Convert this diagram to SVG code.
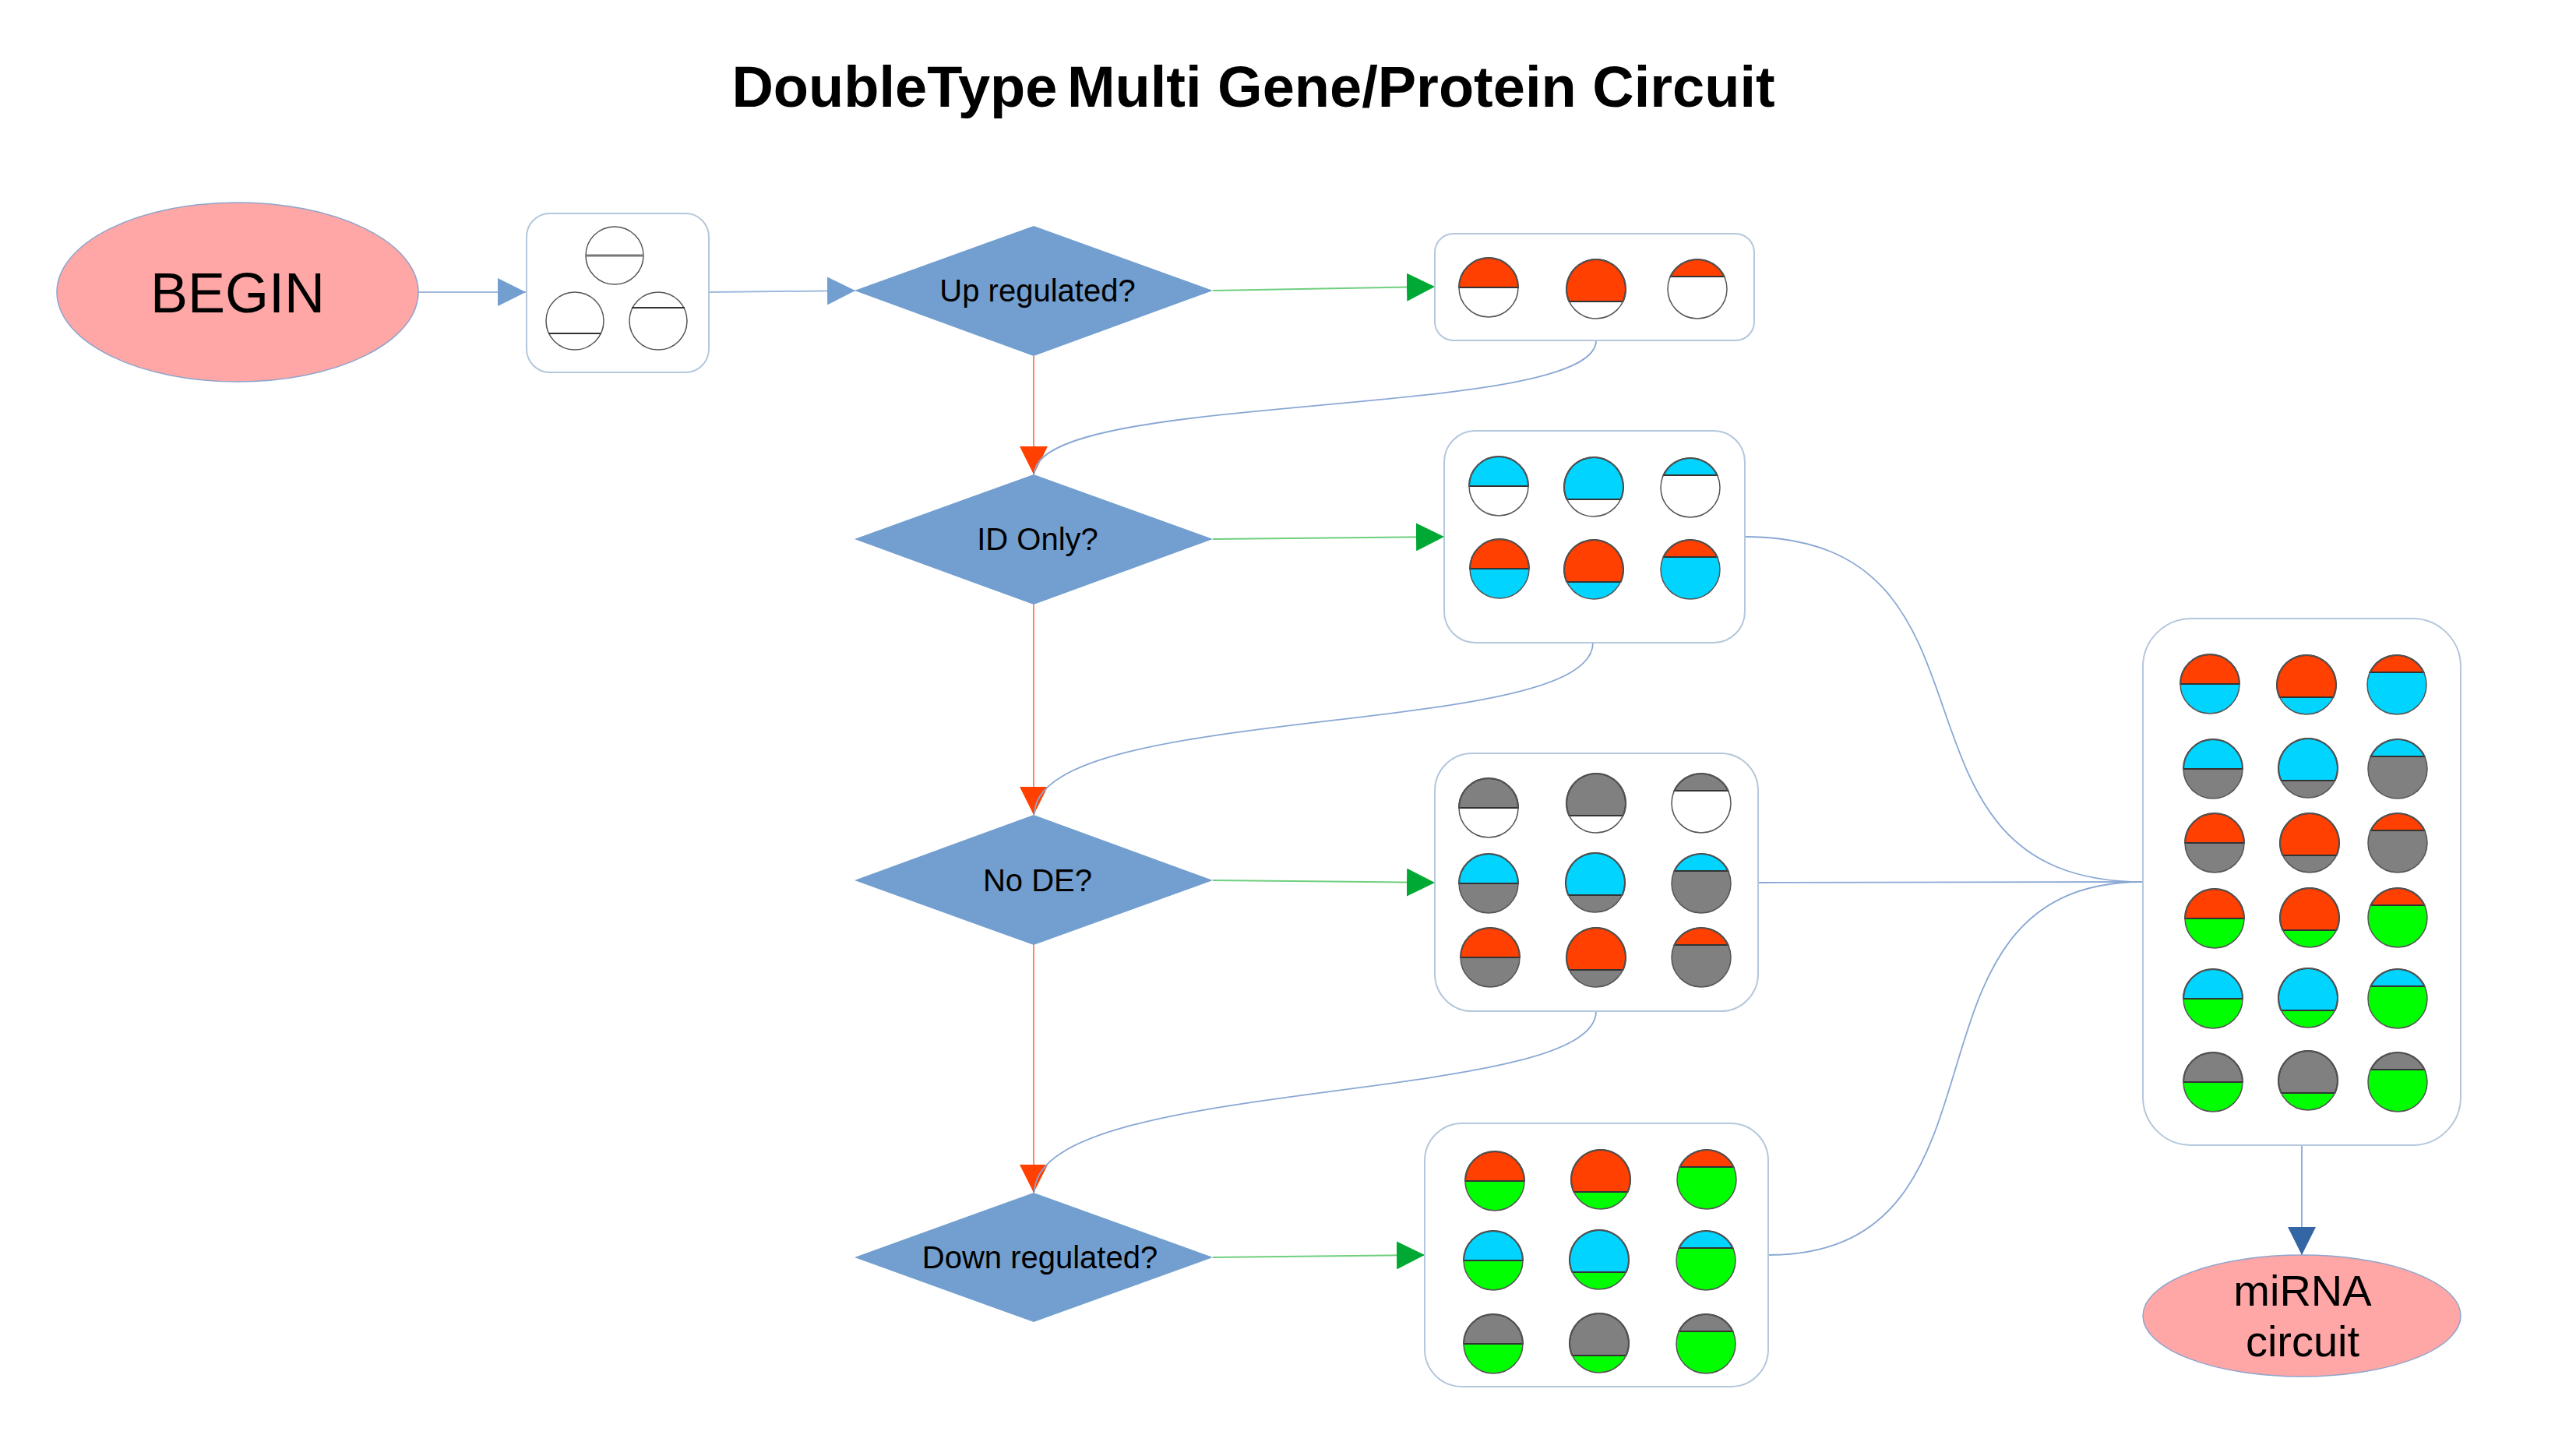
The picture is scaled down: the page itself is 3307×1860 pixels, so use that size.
<svg xmlns="http://www.w3.org/2000/svg" xmlns:xlink="http://www.w3.org/1999/xlink" width="3307" height="1860" viewBox="0 0 3307 1860">
<style>
text{font-family:"Liberation Sans",Arial,sans-serif;fill:#000}
.title{font-size:74px;font-weight:bold;text-anchor:middle}
.dtext{font-size:40px;text-anchor:middle}
.box{fill:#fff;stroke:#b4c7dc;stroke-width:2}
.dia{fill:#729fcf;stroke:none}
.term{fill:#ffa6a6;stroke:#8ea5cc;stroke-width:1.5}
.o{fill:none;stroke:#555;stroke-width:1.5}
.r{fill:#ff4000}.c{fill:#00d4ff}.w{fill:#fff}.g{fill:#808080}.n{fill:#00ff00}
.lb{fill:none;stroke:#9fb9dc;stroke-width:2}
.lg{fill:none;stroke:#6fcf7f;stroke-width:2}
.lr{fill:none;stroke:#ff6a3d;stroke-width:1.6}
.lc{fill:none;stroke:#8aa8d4;stroke-width:1.8}
.div{stroke:#333;stroke-width:2}
</style>
<defs>
<marker id="mb" markerUnits="userSpaceOnUse" viewBox="0 0 36 36" markerWidth="36" markerHeight="36" refX="36" refY="18" orient="auto"><path d="M0,0 L36,18 L0,36 Z" fill="#729fcf"/></marker>
<marker id="mg" markerUnits="userSpaceOnUse" viewBox="0 0 36 36" markerWidth="36" markerHeight="36" refX="36" refY="18" orient="auto"><path d="M0,0 L36,18 L0,36 Z" fill="#00a933"/></marker>
<marker id="mr" markerUnits="userSpaceOnUse" viewBox="0 0 36 36" markerWidth="36" markerHeight="36" refX="36" refY="18" orient="auto"><path d="M0,0 L36,18 L0,36 Z" fill="#ff4000"/></marker>
<marker id="md" markerUnits="userSpaceOnUse" viewBox="0 0 36 36" markerWidth="36" markerHeight="36" refX="36" refY="18" orient="auto"><path d="M0,0 L36,18 L0,36 Z" fill="#3465a4"/></marker>
<path id="sM" d="M-38,0 A38,38 0 0 1 38,0 Z" stroke="#333" stroke-width="2"/>
<path id="sL" d="M-34.5,16 A38,38 0 1 1 34.5,16 Z" stroke="#333" stroke-width="2"/>
<path id="sS" d="M-34.5,-16 A38,38 0 0 1 34.5,-16 Z" stroke="#333" stroke-width="2"/>
</defs>
<rect width="3307" height="1860" fill="#fff"/>

<g id="title"><text class="title" x="1609" y="137">DoubleType<tspan dx="-8"> Multi Gene/Protein Circuit</tspan></text></g>

<g id="connectors">
<path class="lb" d="M537,375 L675,375" marker-end="url(#mb)"/>
<path class="lb" d="M911,375 L1098,373" marker-end="url(#mb)"/>
<path class="lg" d="M1557,373 L1842,368" marker-end="url(#mg)"/>
<path class="lg" d="M1557,692 L1854,689" marker-end="url(#mg)"/>
<path class="lg" d="M1557,1130 L1842,1133" marker-end="url(#mg)"/>
<path class="lg" d="M1557,1614 L1829,1611" marker-end="url(#mg)"/>
<path class="lr" d="M1327,457 L1327,609" marker-end="url(#mr)"/>
<path class="lr" d="M1327,776 L1327,1046" marker-end="url(#mr)"/>
<path class="lr" d="M1327,1213 L1327,1531" marker-end="url(#mr)"/>
<path class="lc" d="M2049,437 C2049,540 1330,500 1328,608"/>
<path class="lc" d="M2045,825 C2045,950 1330,900 1328,1045"/>
<path class="lc" d="M2049,1298 C2049,1420 1330,1380 1328,1530"/>
<path class="lc" d="M2240,689 C2598,689 2393,1132 2751,1132"/>
<path class="lc" d="M2257,1133 L2751,1132"/>
<path class="lc" d="M2270,1611 C2607,1611 2414,1132 2751,1132"/>
<path class="lc" d="M2955,1470 L2955,1611" marker-end="url(#md)"/>
</g>

<g id="begin">
<ellipse class="term" cx="305" cy="375" rx="232" ry="115"/>
<text x="305" y="401" font-size="72" text-anchor="middle">BEGIN</text>
</g>

<g id="start-set">
<rect class="box" x="676" y="274" width="234" height="204" rx="30"/>
<circle class="o" cx="789" cy="328" r="37" fill="#fff" stroke="#666"/>
<line x1="752" y1="328" x2="826" y2="328" stroke="#777" stroke-width="3"/>
<circle class="o" cx="738" cy="412" r="37" fill="#fff" stroke="#666"/>
<line x1="704" y1="428" x2="772" y2="428" class="div"/>
<circle class="o" cx="845" cy="412" r="37" fill="#fff" stroke="#666"/>
<line x1="811" y1="395" x2="879" y2="395" class="div"/>
</g>

<g id="d-up">
<polygon class="dia" points="1097,373 1327,290 1557,373 1327,457"/>
<text class="dtext" x="1332" y="387">Up regulated?</text>
</g>
<g id="d-id">
<polygon class="dia" points="1097,692 1327,609 1557,692 1327,776"/>
<text class="dtext" x="1332" y="706">ID Only?</text>
</g>
<g id="d-node">
<polygon class="dia" points="1097,1130 1327,1046 1557,1130 1327,1213"/>
<text class="dtext" x="1332" y="1144">No DE?</text>
</g>
<g id="d-down">
<polygon class="dia" points="1097,1614 1327,1531 1557,1614 1327,1697"/>
<text class="dtext" x="1335" y="1628">Down regulated?</text>
</g>

<g id="set-up">
<rect class="box" x="1842" y="300" width="410" height="137" rx="24"/>
<g transform="translate(1911,369)"><circle r="38" class="w"/><use href="#sM" class="r"/><circle r="38" class="o"/></g>
<g transform="translate(2049,371)"><circle r="38" class="w"/><use href="#sL" class="r"/><circle r="38" class="o"/></g>
<g transform="translate(2179,371)"><circle r="38" class="w"/><use href="#sS" class="r"/><circle r="38" class="o"/></g>
</g>

<g id="set-id">
<rect class="box" x="1854" y="553" width="386" height="272" rx="40"/>
<g transform="translate(1924,624)"><circle r="38" class="w"/><use href="#sM" class="c"/><circle r="38" class="o"/></g>
<g transform="translate(2046,625)"><circle r="38" class="w"/><use href="#sL" class="c"/><circle r="38" class="o"/></g>
<g transform="translate(2170,626)"><circle r="38" class="w"/><use href="#sS" class="c"/><circle r="38" class="o"/></g>
<g transform="translate(1925,730)"><circle r="38" class="c"/><use href="#sM" class="r"/><circle r="38" class="o"/></g>
<g transform="translate(2046,731)"><circle r="38" class="c"/><use href="#sL" class="r"/><circle r="38" class="o"/></g>
<g transform="translate(2170,731)"><circle r="38" class="c"/><use href="#sS" class="r"/><circle r="38" class="o"/></g>
</g>

<g id="set-node">
<rect class="box" x="1842" y="967" width="415" height="331" rx="48"/>
<g transform="translate(1911,1037)"><circle r="38" class="w"/><use href="#sM" class="g"/><circle r="38" class="o"/></g>
<g transform="translate(2049,1031)"><circle r="38" class="w"/><use href="#sL" class="g"/><circle r="38" class="o"/></g>
<g transform="translate(2184,1031)"><circle r="38" class="w"/><use href="#sS" class="g"/><circle r="38" class="o"/></g>
<g transform="translate(1911,1134)"><circle r="38" class="g"/><use href="#sM" class="c"/><circle r="38" class="o"/></g>
<g transform="translate(2048,1133)"><circle r="38" class="g"/><use href="#sL" class="c"/><circle r="38" class="o"/></g>
<g transform="translate(2184,1134)"><circle r="38" class="g"/><use href="#sS" class="c"/><circle r="38" class="o"/></g>
<g transform="translate(1913,1229)"><circle r="38" class="g"/><use href="#sM" class="r"/><circle r="38" class="o"/></g>
<g transform="translate(2049,1229)"><circle r="38" class="g"/><use href="#sL" class="r"/><circle r="38" class="o"/></g>
<g transform="translate(2184,1229)"><circle r="38" class="g"/><use href="#sS" class="r"/><circle r="38" class="o"/></g>
</g>

<g id="set-down">
<rect class="box" x="1829" y="1442" width="441" height="338" rx="48"/>
<g transform="translate(1919,1516)"><circle r="38" class="n"/><use href="#sM" class="r"/><circle r="38" class="o"/></g>
<g transform="translate(2055,1514)"><circle r="38" class="n"/><use href="#sL" class="r"/><circle r="38" class="o"/></g>
<g transform="translate(2191,1514)"><circle r="38" class="n"/><use href="#sS" class="r"/><circle r="38" class="o"/></g>
<g transform="translate(1917,1618)"><circle r="38" class="n"/><use href="#sM" class="c"/><circle r="38" class="o"/></g>
<g transform="translate(2053,1617)"><circle r="38" class="n"/><use href="#sL" class="c"/><circle r="38" class="o"/></g>
<g transform="translate(2190,1618)"><circle r="38" class="n"/><use href="#sS" class="c"/><circle r="38" class="o"/></g>
<g transform="translate(1917,1725)"><circle r="38" class="n"/><use href="#sM" class="g"/><circle r="38" class="o"/></g>
<g transform="translate(2053,1724)"><circle r="38" class="n"/><use href="#sL" class="g"/><circle r="38" class="o"/></g>
<g transform="translate(2190,1725)"><circle r="38" class="n"/><use href="#sS" class="g"/><circle r="38" class="o"/></g>
</g>

<g id="set-all">
<rect class="box" x="2751" y="794" width="408" height="676" rx="62"/>
<g transform="translate(2837,878)"><circle r="38" class="c"/><use href="#sM" class="r"/><circle r="38" class="o"/></g>
<g transform="translate(2961,879)"><circle r="38" class="c"/><use href="#sL" class="r"/><circle r="38" class="o"/></g>
<g transform="translate(3077,879)"><circle r="38" class="c"/><use href="#sS" class="r"/><circle r="38" class="o"/></g>
<g transform="translate(2841,987)"><circle r="38" class="g"/><use href="#sM" class="c"/><circle r="38" class="o"/></g>
<g transform="translate(2963,986)"><circle r="38" class="g"/><use href="#sL" class="c"/><circle r="38" class="o"/></g>
<g transform="translate(3078,987)"><circle r="38" class="g"/><use href="#sS" class="c"/><circle r="38" class="o"/></g>
<g transform="translate(2843,1082)"><circle r="38" class="g"/><use href="#sM" class="r"/><circle r="38" class="o"/></g>
<g transform="translate(2965,1082)"><circle r="38" class="g"/><use href="#sL" class="r"/><circle r="38" class="o"/></g>
<g transform="translate(3078,1082)"><circle r="38" class="g"/><use href="#sS" class="r"/><circle r="38" class="o"/></g>
<g transform="translate(2843,1179)"><circle r="38" class="n"/><use href="#sM" class="r"/><circle r="38" class="o"/></g>
<g transform="translate(2965,1178)"><circle r="38" class="n"/><use href="#sL" class="r"/><circle r="38" class="o"/></g>
<g transform="translate(3078,1178)"><circle r="38" class="n"/><use href="#sS" class="r"/><circle r="38" class="o"/></g>
<g transform="translate(2841,1282)"><circle r="38" class="n"/><use href="#sM" class="c"/><circle r="38" class="o"/></g>
<g transform="translate(2963,1281)"><circle r="38" class="n"/><use href="#sL" class="c"/><circle r="38" class="o"/></g>
<g transform="translate(3078,1282)"><circle r="38" class="n"/><use href="#sS" class="c"/><circle r="38" class="o"/></g>
<g transform="translate(2841,1389)"><circle r="38" class="n"/><use href="#sM" class="g"/><circle r="38" class="o"/></g>
<g transform="translate(2963,1387)"><circle r="38" class="n"/><use href="#sL" class="g"/><circle r="38" class="o"/></g>
<g transform="translate(3078,1389)"><circle r="38" class="n"/><use href="#sS" class="g"/><circle r="38" class="o"/></g>
</g>

<g id="mirna">
<ellipse class="term" cx="2955" cy="1689" rx="204" ry="78"/>
<text x="2956" y="1676" font-size="56" text-anchor="middle">miRNA</text>
<text x="2956" y="1741" font-size="56" text-anchor="middle">circuit</text>
</g>
</svg>
